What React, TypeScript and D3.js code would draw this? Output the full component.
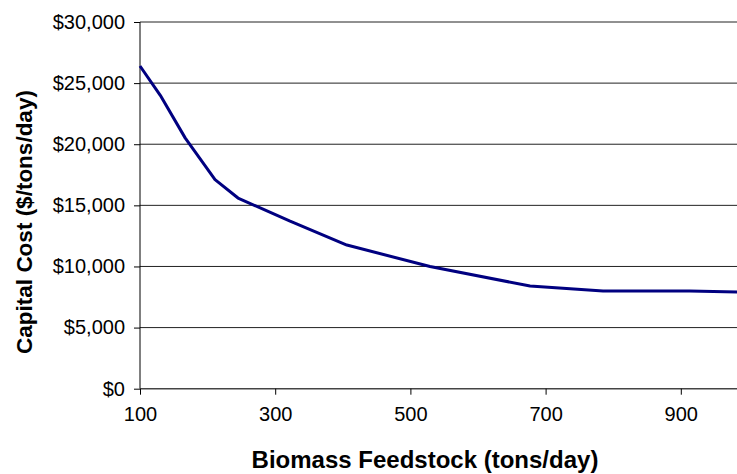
import { useEffect, useRef } from 'react'
import * as d3 from 'd3'

// Biomass feedstock (tons/day) vs capital cost ($/tons/day)
const feedstock = [100, 130, 167, 211, 245, 322, 406, 529, 677, 785, 913, 1000]
const capitalCost = [26400, 24000, 20500, 17100, 15600, 13700, 11750, 10000, 8400, 8000, 8000, 7900]
const yTicks = [0, 5000, 10000, 15000, 20000, 25000, 30000]
const xTicks = [100, 300, 500, 700, 900]

const W = 737
const H = 474
const FONT = '"Liberation Sans", Arial, sans-serif'

export default function App() {
  const ref = useRef<SVGSVGElement>(null)

  useEffect(() => {
    if (!ref.current) return
    const svg = d3.select(ref.current)
    svg.selectAll('*').remove()

    const left = 140
    const top = 22
    const bottom = 388.7

    const x = d3.scaleLinear().domain([100, 1000]).range([left, left + 900 * 0.676])
    const y = d3.scaleLinear().domain([0, 30000]).range([bottom, top])

    // Grid lines
    svg.append('g')
      .selectAll('line')
      .data(yTicks.filter((t) => t > 0))
      .join('line')
      .attr('x1', left)
      .attr('x2', W)
      .attr('y1', (d) => y(d))
      .attr('y2', (d) => y(d))
      .attr('stroke', '#222')
      .attr('stroke-width', 1)

    // Y axis
    const yAxis = svg.append('g')
      .attr('transform', `translate(${left},0)`)
      .call(d3.axisLeft(y).tickValues(yTicks).tickSize(6).tickPadding(9)
        .tickFormat((v) => '$' + d3.format(',')(v as number)))
    yAxis.select('.domain').attr('stroke', '#000').attr('d', `M0,${top}V${bottom}`)
    yAxis.selectAll('line').attr('stroke', '#000')
    yAxis.selectAll('text')
      .attr('font-family', FONT)
      .attr('font-size', 20)
      .attr('fill', '#000')

    // X axis
    const xAxis = svg.append('g')
      .attr('transform', `translate(0,${bottom})`)
      .call(d3.axisBottom(x).tickValues(xTicks).tickSize(6).tickPadding(12)
        .tickFormat((v) => String(v)))
    xAxis.select('.domain').attr('stroke', '#444').attr('stroke-width', 1.5).attr('d', `M${left},0H${W}`)
    xAxis.selectAll('line').attr('stroke', '#000')
    xAxis.selectAll('text')
      .attr('font-family', FONT)
      .attr('font-size', 20)
      .attr('fill', '#000')

    // Series line
    const pts = feedstock.map((f, i) => [f, capitalCost[i]] as [number, number])
    svg.append('path')
      .datum(pts)
      .attr('fill', 'none')
      .attr('stroke', '#000080')
      .attr('stroke-width', 3)
      .attr('stroke-linejoin', 'round')
      .attr('d', d3.line<[number, number]>().x((d) => x(d[0])).y((d) => y(d[1])))

    // Axis titles
    svg.append('text')
      .attr('x', 425)
      .attr('y', 468)
      .attr('text-anchor', 'middle')
      .attr('font-family', FONT)
      .attr('font-weight', 'bold')
      .attr('font-size', 24)
      .text('Biomass Feedstock (tons/day)')

    svg.append('text')
      .attr('transform', `translate(32,222) rotate(-90)`)
      .attr('text-anchor', 'middle')
      .attr('font-family', FONT)
      .attr('font-weight', 'bold')
      .attr('font-size', 22.5)
      .text('Capital Cost ($/tons/day)')
  }, [])

  return (
    <div style={{ position: 'absolute', left: 0, top: 0, width: W, height: H, background: '#fff' }}>
      <svg ref={ref} width={W} height={H} style={{ display: 'block' }} />
    </div>
  )
}
